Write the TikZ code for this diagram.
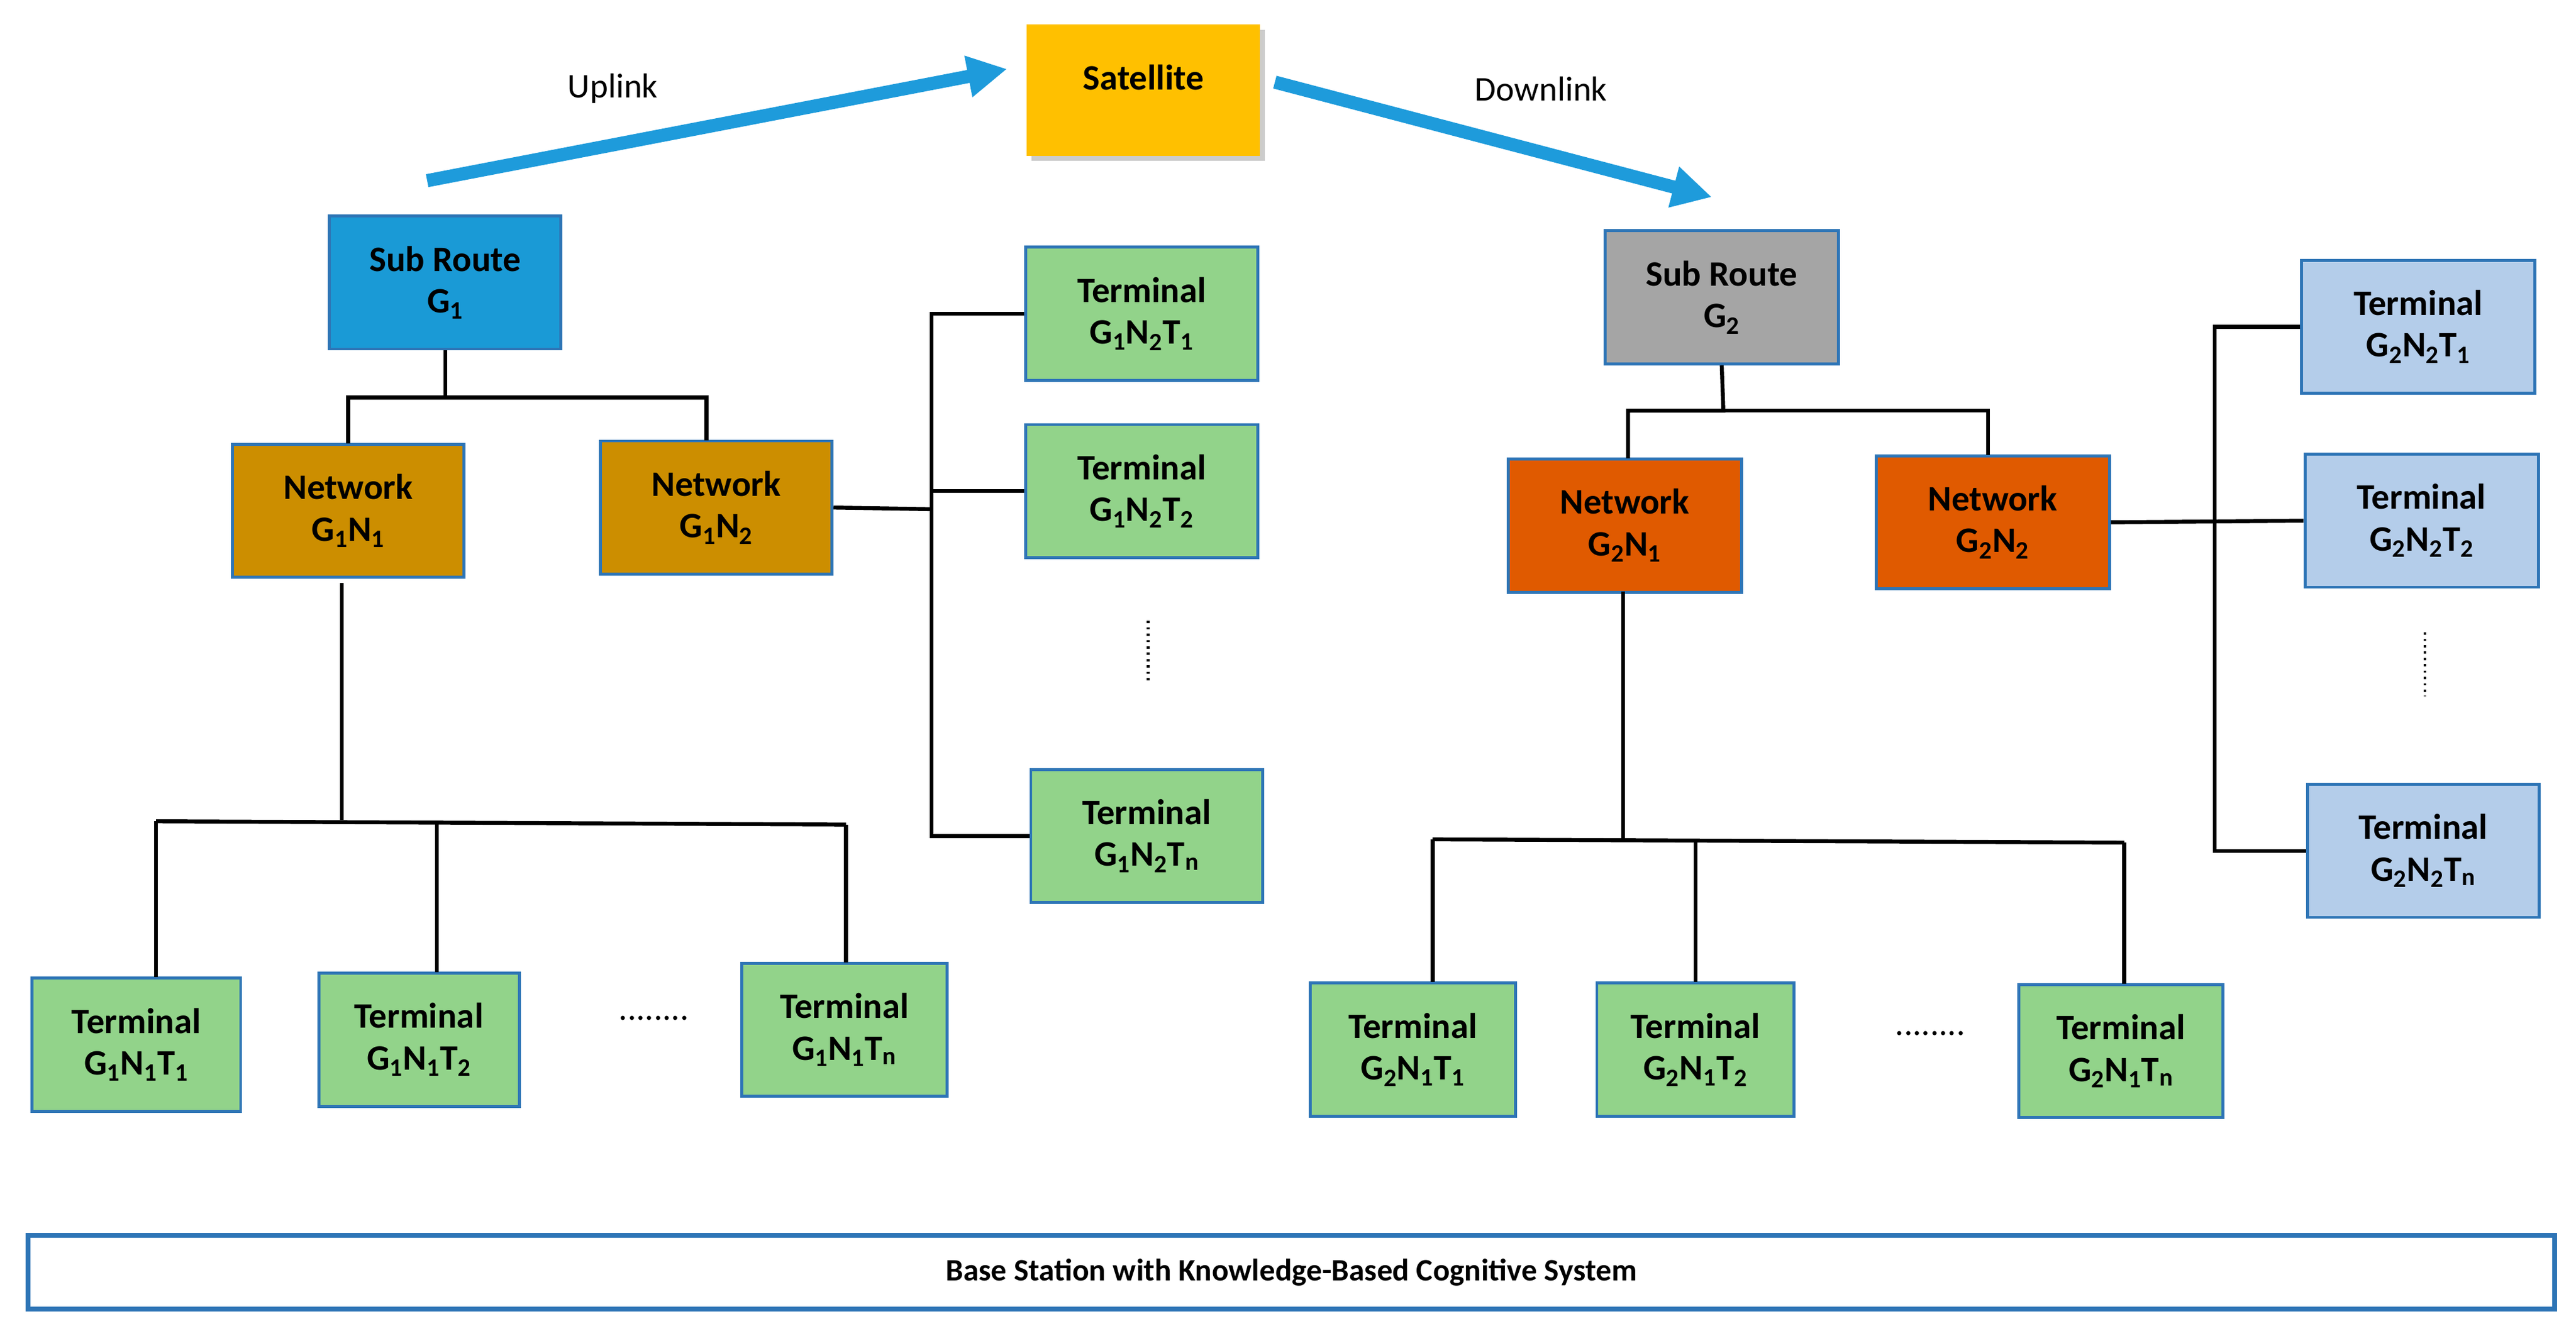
\documentclass[tikz,border=0pt]{standalone}
\usepackage{fontspec}
\setmainfont{Carlito}
\usetikzlibrary{arrows.meta,shadows}
\definecolor{bord}{HTML}{2E75B6}
\definecolor{term}{HTML}{92D38A}
\definecolor{lblue}{HTML}{B4CDEA}
\definecolor{gold}{HTML}{CC8E00}
\definecolor{orng}{HTML}{E05A00}
\definecolor{sky}{HTML}{1A9AD6}
\definecolor{gry}{HTML}{A5A5A5}
\definecolor{sat}{HTML}{FFC000}
\definecolor{arr}{HTML}{1E9BDB}
\begin{document}
\begin{tikzpicture}[x=0.05cm,y=-0.05cm,
 box/.style={draw=bord,line width=2.6pt,align=center,font=\fontsize{31}{36}\selectfont\bfseries,inner sep=0pt},
 ln/.style={line width=3.4pt,black},
 big/.style={line width=0.4cm,arr,-{Triangle[length=1.2cm,width=1.2cm]}},
 lab/.style={font=\fontsize{30}{36}\selectfont}]
\useasboundingbox (0,0) rectangle (1568,810);
% satellite and arrows
\node[box,draw=none,fill=sat,minimum width=142*0.05cm,minimum height=80*0.05cm,drop shadow={shadow xshift=0.15cm,shadow yshift=-0.15cm,fill=black!40}] (sat) at (696,55) {};
\node[box,draw=none] (satl) at (696,47) {Satellite};
\coordinate (u0) at (260,110); \coordinate (u1) at (613,42);
\coordinate (d0) at (776,50); \coordinate (d1) at (1042,120);
\draw[big] (u0) -- (u1);
\draw[big] (d0) -- (d1);
\node[lab] (ul) at (373,54) {Uplink};
\node[lab] (dl) at (938,54) {Downlink};
\newcommand{\bx}[6]{\node[box,fill=#2,minimum width=#3*0.05cm,minimum height=81*0.05cm] (#1) at (#4,#5) {#6};}
\bx{g1}{sky}{141}{271}{172}{Sub Route\\G\textsubscript{1}}
\bx{n11}{gold}{141}{212}{311}{Network\\G\textsubscript{1}N\textsubscript{1}}
\bx{n12}{gold}{141}{436}{309}{Network\\G\textsubscript{1}N\textsubscript{2}}
\bx{a1}{term}{141}{695}{191}{Terminal\\G\textsubscript{1}N\textsubscript{2}T\textsubscript{1}}
\bx{a2}{term}{141}{695}{299}{Terminal\\G\textsubscript{1}N\textsubscript{2}T\textsubscript{2}}
\bx{an}{term}{141}{698}{509}{Terminal\\G\textsubscript{1}N\textsubscript{2}T\textsubscript{n}}
\bx{b1}{term}{127}{83}{636}{Terminal\\G\textsubscript{1}N\textsubscript{1}T\textsubscript{1}}
\bx{b2}{term}{122}{255}{633}{Terminal\\G\textsubscript{1}N\textsubscript{1}T\textsubscript{2}}
\bx{bn}{term}{125}{514}{627}{Terminal\\G\textsubscript{1}N\textsubscript{1}T\textsubscript{n}}
\bx{g2}{gry}{142}{1048}{181}{Sub Route\\G\textsubscript{2}}
\bx{n21}{orng}{142}{989}{320}{Network\\G\textsubscript{2}N\textsubscript{1}}
\bx{n22}{orng}{142}{1213}{318}{Network\\G\textsubscript{2}N\textsubscript{2}}
\bx{c1}{lblue}{142}{1472}{199}{Terminal\\G\textsubscript{2}N\textsubscript{2}T\textsubscript{1}}
\bx{c2}{lblue}{142}{1474}{317}{Terminal\\G\textsubscript{2}N\textsubscript{2}T\textsubscript{2}}
\bx{cn}{lblue}{141}{1475}{518}{Terminal\\G\textsubscript{2}N\textsubscript{2}T\textsubscript{n}}
\bx{d1}{term}{125}{860}{639}{Terminal\\G\textsubscript{2}N\textsubscript{1}T\textsubscript{1}}
\bx{d2}{term}{120}{1032}{639}{Terminal\\G\textsubscript{2}N\textsubscript{1}T\textsubscript{2}}
\bx{dn}{term}{124}{1291}{640}{Terminal\\G\textsubscript{2}N\textsubscript{1}T\textsubscript{n}}
% dots
\node[lab] (e1) at (398,620) {........};
\node[lab] (e2) at (1175,629) {........};
\draw[line width=2.5pt,dash pattern=on 2pt off 3.5pt] (699,378) -- (699,416);
\draw[line width=2.5pt,dash pattern=on 2pt off 3.5pt] (1476,385) -- (1476,424);
% connectors left
\draw[ln] (g1.south) -- (271,242) -| (212,270);
\draw[ln] (271,242) -| (430,268);
\draw[ln] (n12.east) -- (567,310);
\draw[ln] (a1.west) -- (567,191) -- (567,509) -- (an.west);
\draw[ln] (567,299) -- (a2.west);
\draw[ln] (208,355) -- (208,499);
\draw[ln] (95,500) -- (515,502);
\draw[ln] (95,500) -- (95,595);
\draw[ln] (266,501) -- (266,592);
\draw[ln] (515,502) -- (515,586);
% connectors right
\draw[ln] (g2.south) -- (1049,250) -| (991,279);
\draw[ln] (1049,250) -| (1210,277);
\draw[ln] (n22.east) -- (c2.west);
\draw[ln] (c1.west) -- (1348,199) -- (1348,518) -- (cn.west);
\draw[ln] (988,360) -- (988,511);
\draw[ln] (872,511) -- (1293,513);
\draw[ln] (872,511) -- (872,598);
\draw[ln] (1032,512) -- (1032,598);
\draw[ln] (1293,513) -- (1293,599);
% base station
\node[box,line width=4pt,minimum width=1538*0.05cm,minimum height=45*0.05cm,font=\fontsize{27}{32}\selectfont\bfseries] (bs) at (786,774.5) {Base Station with Knowledge-Based Cognitive System};
\end{tikzpicture}
\end{document}
